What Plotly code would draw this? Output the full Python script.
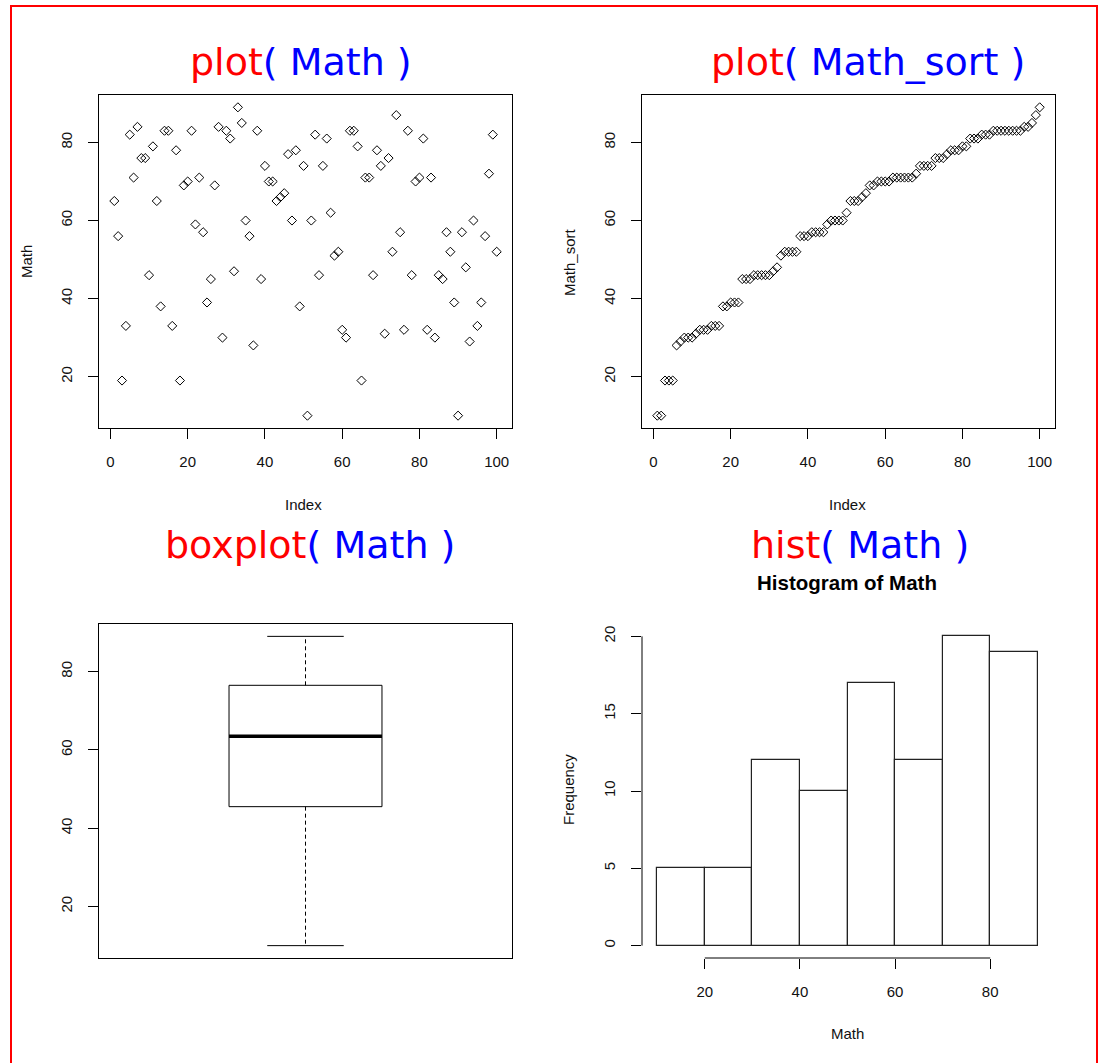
import numpy as np
import pandas as pd
import plotly.graph_objects as go

# Math scores of 100 students, in record order
math_scores = [65, 56, 19, 33, 82, 71, 84, 76, 76, 46,
               79, 65, 38, 83, 83, 33, 78, 19, 69, 70,
               83, 59, 71, 57, 39, 45, 69, 84, 30, 83,
               81, 47, 89, 85, 60, 56, 28, 83, 45, 74,
               70, 70, 65, 66, 67, 77, 60, 78, 38, 74,
               10, 60, 82, 46, 74, 81, 62, 51, 52, 32,
               30, 83, 83, 79, 19, 71, 71, 46, 78, 74,
               31, 76, 52, 87, 57, 32, 83, 46, 70, 71,
               81, 32, 71, 30, 46, 45, 57, 52, 39, 10,
               57, 48, 29, 60, 33, 39, 56, 72, 82, 52]

hist_breaks = [10, 20, 30, 40, 50, 60, 70, 80, 90]
index_ticks = [0, 20, 40, 60, 80, 100]
score_ticks = [20, 40, 60, 80]
freq_ticks = [0, 5, 10, 15, 20]
hist_x_ticks = [20, 40, 60, 80]

math = np.array(math_scores, dtype=float)
math_sort = np.sort(math)
index = np.arange(1, len(math) + 1)

# histogram counts with right-closed bins, lowest bin closed on both ends
binned = pd.cut(pd.Series(math), bins=hist_breaks, right=True, include_lowest=True)
counts = binned.value_counts(sort=False).to_numpy()
mids = [(a + b) / 2 for a, b in zip(hist_breaks[:-1], hist_breaks[1:])]
widths = [b - a for a, b in zip(hist_breaks[:-1], hist_breaks[1:])]


def fivenum(v):
    s = np.sort(v)
    n = len(s)
    n4 = np.floor((n + 3) / 2) / 2
    d = np.array([1, n4, (n + 1) / 2, n + 1 - n4, n]) - 1
    return 0.5 * (s[np.floor(d).astype(int)] + s[np.ceil(d).astype(int)])


vmin, q1, med, q3, vmax = fivenum(math)
iqr = q3 - q1
lo_whisk = math[math >= q1 - 1.5 * iqr].min()
hi_whisk = math[math <= q3 + 1.5 * iqr].max()


def rpad(lo, hi, f=0.04):
    d = (hi - lo) * f
    return [lo - d, hi + d]


W, H = 1099, 1063


def px_x(a, b):
    return [a / W, b / W]


def px_y(top, bottom):
    return [1 - bottom / H, 1 - top / H]


BLACK = "black"
tick_font = dict(family="Liberation Sans, Arial, sans-serif", size=15, color="#111")
lab_font = dict(family="Liberation Sans, Arial, sans-serif", size=15, color="#111")
point_marker = dict(symbol="diamond-open", size=7, color=BLACK,
                    line=dict(width=1, color=BLACK))

fig = go.Figure()

# top left: values by index
fig.add_trace(go.Scatter(x=index, y=math, mode="markers", xaxis="x", yaxis="y",
                         marker=point_marker, showlegend=False))
# top right: sorted values by index
fig.add_trace(go.Scatter(x=index, y=math_sort, mode="markers", xaxis="x2", yaxis="y2",
                         marker=point_marker, showlegend=False))

# bottom left: box plot built from the five-number summary
bx0, bx1 = 0.8, 1.2
sx0, sx1 = 0.9, 1.1
box_line = dict(color=BLACK, width=1)
fig.add_trace(go.Scatter(x=[bx0, bx1, bx1, bx0, bx0], y=[q1, q1, q3, q3, q1],
                         mode="lines", line=box_line, xaxis="x3", yaxis="y3",
                         showlegend=False, hoverinfo="skip"))
fig.add_trace(go.Scatter(x=[bx0, bx1], y=[med, med], mode="lines",
                         line=dict(color=BLACK, width=3.5), xaxis="x3", yaxis="y3",
                         showlegend=False))
fig.add_trace(go.Scatter(x=[1, 1, None, 1, 1], y=[q3, hi_whisk, None, q1, lo_whisk],
                         mode="lines", line=dict(color=BLACK, width=1, dash="4px,3px"),
                         xaxis="x3", yaxis="y3", showlegend=False))
fig.add_trace(go.Scatter(x=[sx0, sx1, None, sx0, sx1],
                         y=[hi_whisk, hi_whisk, None, lo_whisk, lo_whisk],
                         mode="lines", line=box_line, xaxis="x3", yaxis="y3",
                         showlegend=False))

# bottom right: histogram
fig.add_trace(go.Bar(x=mids, y=counts, width=widths, xaxis="x4", yaxis="y4",
                     marker=dict(color="white", line=dict(color="#222", width=1.2)),
                     showlegend=False))

axis_common = dict(showgrid=False, zeroline=False, ticks="outside", ticklen=10,
                   tickcolor=BLACK, tickwidth=1, tickfont=tick_font,
                   ticklabelstandoff=10)
framed = dict(showline=True, mirror=True, linecolor=BLACK, linewidth=1)

score_range = rpad(math.min(), math.max())
index_range = rpad(1, len(math))

fig.update_layout(
    width=W, height=H,
    margin=dict(l=0, r=0, t=0, b=0),
    paper_bgcolor="white", plot_bgcolor="white",
    xaxis=dict(domain=px_x(99, 512), anchor="y", range=index_range,
               tickvals=index_ticks, **axis_common, **framed),
    yaxis=dict(domain=px_y(95, 428), anchor="x", range=score_range,
               tickvals=score_ticks, tickangle=-90, **axis_common, **framed),
    xaxis2=dict(domain=px_x(642, 1055), anchor="y2", range=index_range,
                tickvals=index_ticks, **axis_common, **framed),
    yaxis2=dict(domain=px_y(95, 428), anchor="x2", range=score_range,
                tickvals=score_ticks, tickangle=-90, **axis_common, **framed),
    xaxis3=dict(domain=px_x(99, 512), anchor="y3", range=rpad(0.5, 1.5),
                showticklabels=False, showgrid=False, zeroline=False, ticks="",
                **framed),
    yaxis3=dict(domain=px_y(624, 958), anchor="x3", range=score_range,
                tickvals=score_ticks, tickangle=-90, **axis_common, **framed),
    xaxis4=dict(domain=px_x(642, 1053), anchor="y4", range=rpad(10, 90),
                tickvals=hist_x_ticks, showline=False, **axis_common),
    yaxis4=dict(domain=px_y(624, 958), anchor="x4", range=rpad(0, 20),
                tickvals=freq_ticks, tickangle=-90, showline=False, **axis_common),
    bargap=0,
)

# histogram axis lines span only the labelled range
fig.add_shape(type="line", xref="x4 domain", yref="y4", x0=0, x1=0,
              y0=freq_ticks[0], y1=freq_ticks[-1], line=dict(color=BLACK, width=1))
fig.add_shape(type="line", xref="x4", yref="y4 domain", x0=hist_x_ticks[0],
              x1=hist_x_ticks[-1], y0=0, y1=0, line=dict(color=BLACK, width=1))

# outer red frame
fig.add_shape(type="rect", xref="paper", yref="paper", x0=11 / W, x1=1097 / W,
              y0=-0.02, y1=1 - 6 / H, line=dict(color="red", width=2))


def ann(text, x, y, font, angle=0):
    fig.add_annotation(text=text, x=x / W, y=1 - y / H, xref="paper", yref="paper",
                       showarrow=False, font=font, textangle=angle,
                       xanchor="center", yanchor="middle")


title_font = dict(family="DejaVu Sans, Verdana, sans-serif", size=38, color="blue")


def call_title(fn, arg):
    return f"<span style='color:red'>{fn}</span><span style='color:blue'>( {arg} )</span>"


ann(call_title("plot", "Math"), 301, 62, title_font)
ann(call_title("plot", "Math_sort"), 868, 62, title_font)
ann(call_title("boxplot", "Math"), 310, 545, title_font)
ann(call_title("hist", "Math"), 860, 545, title_font)
ann("<b>Histogram of Math</b>", 846.5, 582,
    dict(family="Liberation Sans, Arial, sans-serif", size=20.5, color="black"))

ann("Math", 27, 262, lab_font, -90)
ann("Index", 303, 504, lab_font)
ann("Math_sort", 570, 262, lab_font, -90)
ann("Index", 847, 504, lab_font)
ann("Frequency", 568, 790, lab_font, -90)
ann("Math", 847, 1033, lab_font)

fig.write_html("out.html")
